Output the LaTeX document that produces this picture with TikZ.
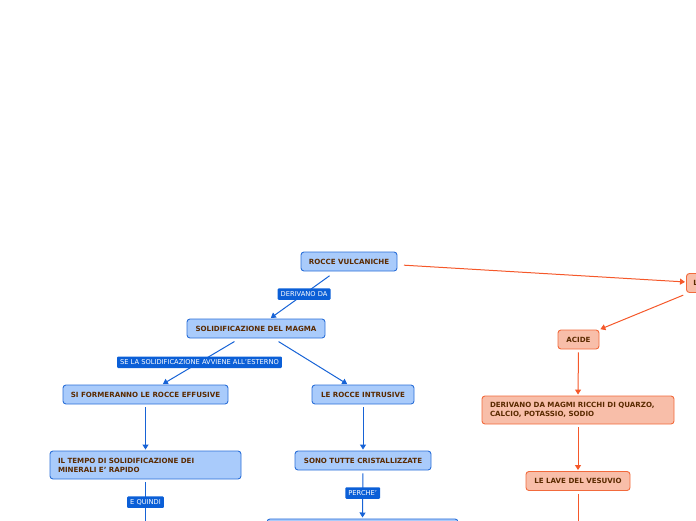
\documentclass[tikz,border=0pt]{standalone}
\usepackage{fontspec}
\setmainfont{DejaVu Sans}
\usetikzlibrary{arrows.meta}
\definecolor{bfill}{HTML}{A9CBFB}
\definecolor{bline}{HTML}{2A6FD8}
\definecolor{blabel}{HTML}{0B5FD7}
\definecolor{bedge}{HTML}{1763D6}
\definecolor{ofill}{HTML}{F8BEA9}
\definecolor{oline}{HTML}{F26A3C}
\definecolor{oedge}{HTML}{F5582A}
\definecolor{tbrown}{HTML}{5A2A00}
\tikzset{
  box/.style={rounded corners=3pt, line width=0.9pt, text=tbrown,
    font=\fontsize{7.1}{9}\selectfont\bfseries, inner sep=0pt, minimum height=19pt},
  bbox/.style={box, draw=bline, fill=bfill},
  obox/.style={box, draw=oline, fill=ofill},
  lbl/.style={fill=blabel, text=white, font=\fontsize{6.7}{7}\selectfont,
    inner xsep=3pt, inner ysep=0pt, minimum height=11.5pt, rounded corners=1pt},
  bcon/.style={draw=bedge, line width=1pt, -{Triangle[length=5pt,width=6pt]}, shorten <=3pt, shorten >=1pt},
  bline2/.style={draw=bedge, line width=1pt, shorten <=3pt},
  ocon/.style={draw=oedge, line width=1pt, -{Triangle[length=5pt,width=6pt]}, shorten <=3pt, shorten >=1pt},
  oline2/.style={draw=oedge, line width=1pt, shorten <=3pt},
}
\begin{document}
\begin{tikzpicture}[x=1pt,y=-1pt]
\useasboundingbox (0,0) rectangle (696,520);
\clip (0,0) rectangle (696,520);
% blue side
\node[bbox, minimum width=96pt] (rv) at (349,261.5) {ROCCE VULCANICHE};
\node[bbox, minimum width=138pt] (sm) at (256,328.5) {SOLIDIFICAZIONE DEL MAGMA};
\node[bbox, minimum width=165pt] (ef) at (145.5,394.5) {SI FORMERANNO LE ROCCE EFFUSIVE};
\node[bbox, minimum width=102pt] (ri) at (363,394.5) {LE ROCCE INTRUSIVE};
\node[bbox, minimum width=191pt, minimum height=28pt, text width=175pt, align=left] (tp) at (145.5,465) {IL TEMPO DI SOLIDIFICAZIONE DEI\\MINERALI E' RAPIDO};
\node[bbox, minimum width=136pt] (tc) at (363,460.5) {SONO TUTTE CRISTALLIZZATE};
\node[bbox, minimum width=191pt, minimum height=28pt, anchor=north] (bb) at (362.5,518.5) {};
\coordinate (ep) at (145.5,530);
% blue connectors
\draw[bcon] (332,274) -- node[lbl, pos=0.45] (l1) {DERIVANO DA} (sm.north -| 270,0);
\draw[bcon] (237,340) -- node[lbl, pos=0.5] (l2) {SE LA SOLIDIFICAZIONE AVVIENE ALL'ESTERNO} (ef.north -| 162,0);
\draw[bcon] (276,340) -- (ri.north -| 348,0);
\draw[bcon] (ef.south) -- (tp.north);
\draw[bline2] (tp.south) -- node[lbl, pos=0.45] (l3) {E QUINDI} (ep);
\draw[bcon] (ri.south) -- (tc.north);
\draw[bcon] (tc.south) -- node[lbl, pos=0.47] (l4) {PERCHE'} (bb.north);
% orange side
\node[obox, minimum width=70pt, anchor=west, align=left] (lv) at (686,283) {\hspace*{7pt}LE LAVE POSSONO ESSERE\hspace*{7pt}};
\node[obox, minimum width=41pt] (ac) at (578.5,339.5) {ACIDE};
\node[obox, minimum width=192pt, minimum height=28pt, text width=176pt, align=left] (dm) at (578,410) {DERIVANO DA MAGMI RICCHI DI QUARZO,\\CALCIO, POTASSIO, SODIO};
\node[obox, minimum width=104pt] (vs) at (578,481) {LE LAVE DEL VESUVIO};
\coordinate (oe) at (578,530);
\draw[ocon] (401,265) -- (lv.west |- 0,282);
\draw[ocon] (686,294) -- (ac.north east);
\draw[ocon] (ac.south) -- (dm.north);
\draw[ocon] (dm.south) -- (vs.north);
\draw[oline2] (vs.south) -- (oe);
\end{tikzpicture}
\end{document}
